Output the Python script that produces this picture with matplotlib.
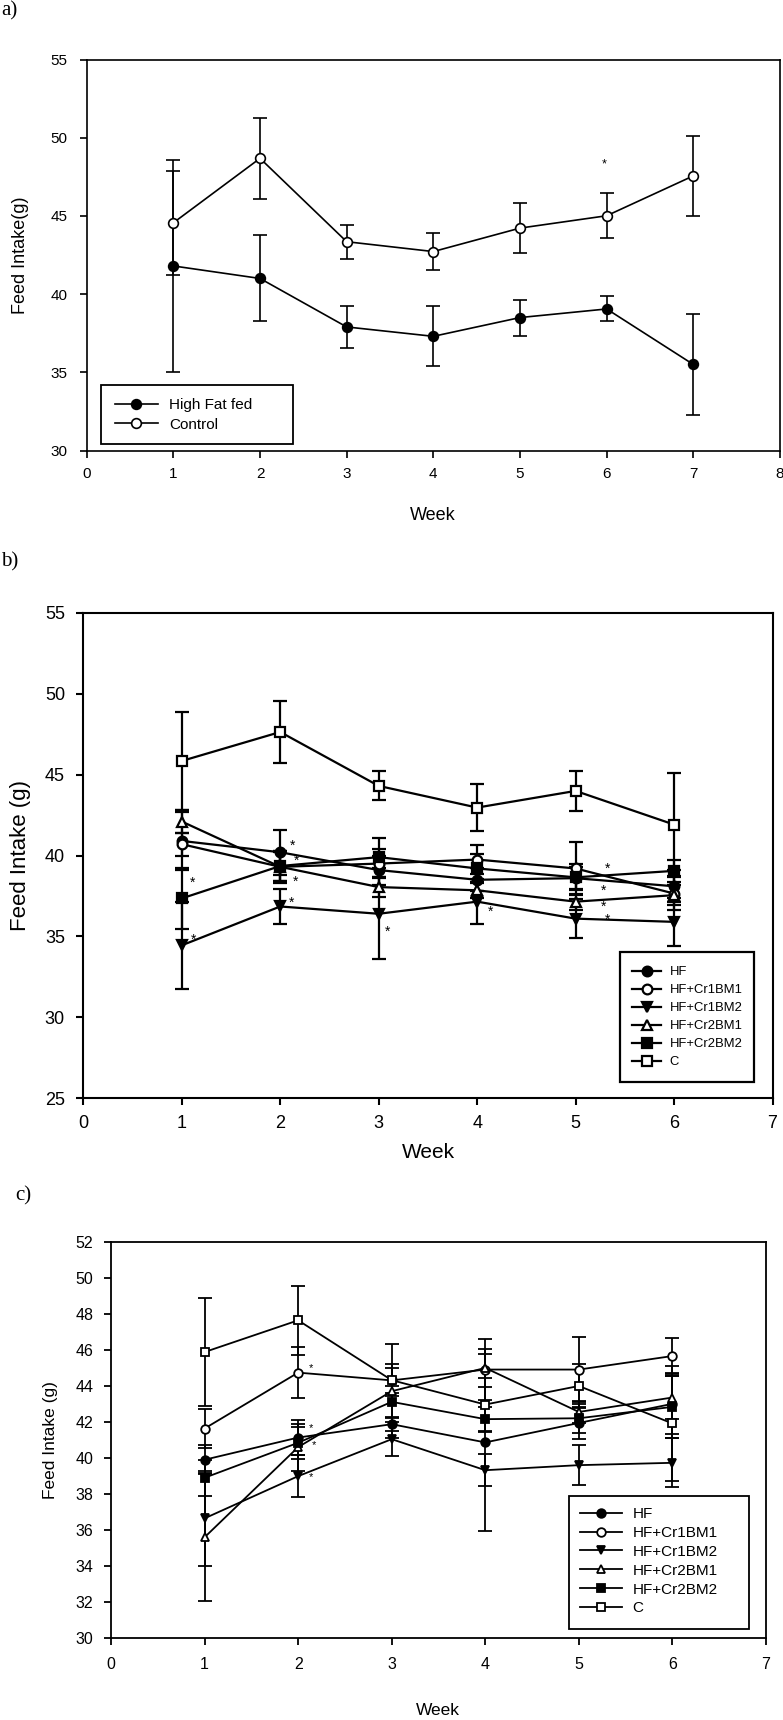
import matplotlib
matplotlib.use('Agg')
import matplotlib.pyplot as plt
from matplotlib.patches import Rectangle

# panel a: 7 weeks, two groups
weeks_a = [1, 2, 3, 4, 5, 6, 7]
hf_a = [41.8, 41.0, 37.9, 37.3, 38.5, 39.05, 35.5]
hf_a_err = [6.75, 2.75, 1.33, 1.92, 1.15, 0.8, 3.2]
ctrl_a = [44.56, 48.68, 43.35, 42.72, 44.22, 45.01, 47.56]
ctrl_a_err = [3.32, 2.6, 1.1, 1.2, 1.6, 1.45, 2.55]
labels_a = ['High Fat fed', 'Control']
stars_a_x = [5.97]
stars_a_y = [48.3]

# panels b and c: 6 weeks, six groups
weeks_bc = [1, 2, 3, 4, 5, 6]
groups = ['HF', 'HF+Cr1BM1', 'HF+Cr1BM2', 'HF+Cr2BM1', 'HF+Cr2BM2', 'C']

hf_b = [40.9, 40.2, 39.1, 38.5, 38.6, 38.1]
hf_b_err = [1.8, 1.4, 0.9, 0.7, 0.7, 1.0]
cr1bm1_b = [40.7, 39.3, 39.5, 39.75, 39.2, 37.65]
cr1bm1_b_err = [0.7, 0.9, 0.9, 0.9, 1.65, 1.0]
cr1bm2_b = [34.45, 36.85, 36.4, 37.15, 36.1, 35.9]
cr1bm2_b_err = [2.7, 1.1, 2.8, 1.4, 1.2, 1.5]
cr2bm1_b = [42.1, 39.3, 38.05, 37.85, 37.15, 37.55]
cr2bm1_b_err = [0.7, 1.0, 0.6, 0.5, 0.5, 0.6]
cr2bm2_b = [37.35, 39.35, 39.9, 39.2, 38.65, 39.05]
cr2bm2_b_err = [1.9, 0.9, 1.2, 0.9, 0.8, 0.7]
c_b = [45.84, 47.63, 44.30, 42.96, 43.99, 41.91]
c_b_err = [3.0, 1.9, 0.9, 1.45, 1.25, 3.2]
stars_b_x = [1.11, 1.12, 2.13, 2.17, 2.16, 2.11, 3.09, 4.14, 5.32, 5.28, 5.28, 5.32]
stars_b_y = [38.3, 34.8, 40.6, 39.7, 38.4, 37.05, 35.3, 36.5, 39.15, 37.85, 36.85, 36.0]

hf_c = [39.9, 41.13, 41.87, 40.86, 41.94, 43.0]
hf_c_err = [0.8, 0.95, 0.4, 4.9, 0.9, 1.7]
cr1bm1_c = [41.63, 44.73, 44.3, 44.9, 44.9, 45.65]
cr1bm1_c_err = [1.1, 1.4, 0.7, 1.7, 1.8, 1.0]
cr1bm2_c = [36.65, 38.99, 41.04, 39.32, 39.6, 39.73]
cr1bm2_c_err = [2.65, 1.15, 0.95, 0.9, 1.1, 1.35]
cr2bm1_c = [35.6, 40.6, 43.7, 44.99, 42.55, 43.35]
cr2bm1_c_err = [3.55, 1.3, 2.6, 1.05, 0.6, 1.2]
cr2bm2_c = [38.9, 40.84, 43.11, 42.15, 42.2, 42.83]
cr2bm2_c_err = [1.0, 0.9, 0.9, 0.7, 0.8, 1.7]
c_c = [45.87, 47.63, 44.31, 42.96, 43.99, 41.91]
c_c_err = [3.0, 1.9, 0.9, 1.45, 1.2, 3.2]
stars_c_x = [2.14, 2.14, 2.17, 2.14]
stars_c_y = [44.98, 41.66, 40.69, 38.94]

markers = ['o', 'o', 'v', '^', 's', 's']
fills = ['black', 'white', 'black', 'white', 'black', 'white']

plt.rcParams['font.family'] = ['Liberation Sans', 'DejaVu Sans']

W, H = 783, 1720
fig = plt.figure(figsize=(W / 100, H / 100), dpi=100)


def px_axes(left, top, right, bottom):
    return fig.add_axes([left / W, 1 - bottom / H, (right - left) / W, (bottom - top) / H])


def style_axes(ax, lw, fs, ypad, xpad):
    for s in ax.spines.values():
        s.set_linewidth(lw)
    ax.tick_params(direction='out', length=4.8, width=lw, labelsize=fs)
    ax.tick_params(axis='y', pad=ypad)
    ax.tick_params(axis='x', pad=xpad)


def draw_series(ax, x, y, err, marker, fill, label, lw, ms, cap):
    ax.errorbar(x, y, yerr=err, fmt='none', ecolor='black', elinewidth=lw,
                capsize=cap, capthick=lw, zorder=2)
    ax.plot(x, y, color='black', lw=lw, marker=marker, ms=ms, mfc=fill,
            mec='black', mew=lw, label=label, zorder=3)


def boxed_legend(ax, box, x0, ytop, fs, hl, htp, ls, lw):
    # box drawn by hand so it can have the loose right margin of the original
    l, t, r, b = box
    ax.add_patch(Rectangle((l / W, 1 - b / H), (r - l) / W, (b - t) / H,
                           transform=fig.transFigure, facecolor='white',
                           edgecolor='black', lw=lw, zorder=5, clip_on=False))
    leg = ax.legend(loc='upper left', bbox_to_anchor=(x0 / W, 1 - ytop / H),
                    bbox_transform=fig.transFigure, borderaxespad=0, borderpad=0,
                    fontsize=fs, frameon=False, handlelength=hl,
                    handletextpad=htp, labelspacing=ls)
    leg.set_zorder(6)
    return leg


# ---- a) ----
ax_a = px_axes(86.7, 59.5, 780, 450.5)
draw_series(ax_a, weeks_a, hf_a, hf_a_err, 'o', 'black', labels_a[0], 1.2, 7, 5)
draw_series(ax_a, weeks_a, ctrl_a, ctrl_a_err, 'o', 'white', labels_a[1], 1.2, 7, 5)
for sx, sy in zip(stars_a_x, stars_a_y):
    ax_a.text(sx, sy, '*', ha='center', va='center', fontsize=9)
ax_a.set_xlim(0, 8)
ax_a.set_ylim(30, 55)
ax_a.set_xticks(range(0, 9))
ax_a.set_yticks(range(30, 56, 5))
style_axes(ax_a, 1.2, 11, 9, 7)
boxed_legend(ax_a, (101, 385, 293, 444), 115, 398, 11, 2.8, 0.76, 0.37, 1.3)
fig.text(433 / W, 1 - 516 / H, 'Week', ha='center', va='center', fontsize=13)
fig.text(21 / W, 1 - 255 / H, 'Feed Intake(g)', ha='center', va='center',
         rotation=90, fontsize=13)
fig.text(1 / W, 1 - 1 / H, 'a)', ha='left', va='top', fontsize=15,
         family='Liberation Serif')

# ---- b) ----
b_vals = [hf_b, cr1bm1_b, cr1bm2_b, cr2bm1_b, cr2bm2_b, c_b]
b_errs = [hf_b_err, cr1bm1_b_err, cr1bm2_b_err, cr2bm1_b_err, cr2bm2_b_err, c_b_err]
ax_b = px_axes(83.3, 612.7, 772.5, 1098.3)
for vals, errs, m, f, g in zip(b_vals, b_errs, markers, fills, groups):
    draw_series(ax_b, weeks_bc, vals, errs, m, f, g, 1.6, 7, 5)
for sx, sy in zip(stars_b_x, stars_b_y):
    ax_b.text(sx, sy, '*', ha='center', va='center', fontsize=10)
ax_b.set_xlim(0, 7)
ax_b.set_ylim(25, 55)
ax_b.set_xticks(range(0, 8))
ax_b.set_yticks(range(25, 56, 5))
style_axes(ax_b, 1.5, 13, 8.4, 7)
boxed_legend(ax_b, (620, 952, 754, 1082), 632, 966, 9.4, 2.25, 0.62, 0.45, 1.6)
fig.text(428 / W, 1 - 1152 / H, 'Week', ha='center', va='center', fontsize=15)
fig.text(21 / W, 1 - 856 / H, 'Feed Intake (g)', ha='center', va='center',
         rotation=90, fontsize=16)
fig.text(1 / W, 1 - 552 / H, 'b)', ha='left', va='top', fontsize=15,
         family='Liberation Serif')

# ---- c) ----
c_vals = [hf_c, cr1bm1_c, cr1bm2_c, cr2bm1_c, cr2bm2_c, c_c]
c_errs = [hf_c_err, cr1bm1_c_err, cr1bm2_c_err, cr2bm1_c_err, cr2bm2_c_err, c_c_err]
ax_c = px_axes(111, 1241.5, 766, 1638.3)
for vals, errs, m, f, g in zip(c_vals, c_errs, markers, fills, groups):
    draw_series(ax_c, weeks_bc, vals, errs, m, f, g, 1.3, 6.2, 4.7)
for sx, sy in zip(stars_c_x, stars_c_y):
    ax_c.text(sx, sy, '*', ha='center', va='center', fontsize=8)
ax_c.set_xlim(0, 7)
ax_c.set_ylim(30, 52)
ax_c.set_xticks(range(0, 8))
ax_c.set_yticks(range(30, 53, 2))
style_axes(ax_c, 1.3, 11.5, 8, 8.4)
boxed_legend(ax_c, (569, 1496, 749, 1629), 580, 1507, 11, 2.72, 0.72, 0.32, 1.3)
fig.text(438 / W, 1 - 1718 / H, 'Week', ha='center', va='bottom', fontsize=12.5)
fig.text(50 / W, 1 - 1440 / H, 'Feed Intake (g)', ha='center', va='center',
         rotation=90, fontsize=12.5)
fig.text(15 / W, 1 - 1186 / H, 'c)', ha='left', va='top', fontsize=15,
         family='Liberation Serif')

fig.savefig('out.png', dpi=100)
